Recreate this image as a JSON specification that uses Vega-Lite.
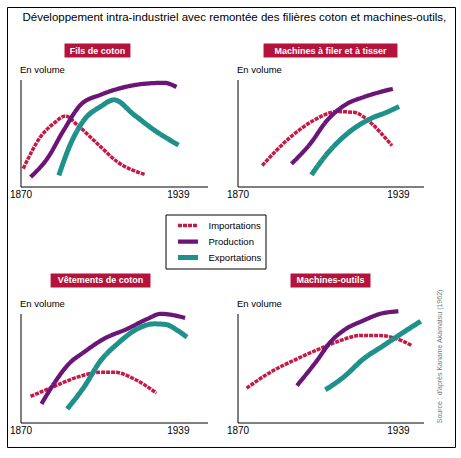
{
  "$schema": "https://vega.github.io/schema/vega-lite/v6.json",
  "padding": {"left": 6.5, "top": 6.5, "right": 3, "bottom": 3},
  "background": "white",
  "title": {
    "text": "Développement intra-industriel avec remontée des filières coton et machines-outils,",
    "fontSize": 11.5,
    "fontWeight": "normal",
    "font": "Liberation Sans",
    "color": "black",
    "anchor": "start",
    "frame": "group",
    "baseline": "alphabetic",
    "dx": 2,
    "offset": -26
  },
  "datasets": {
    "series": [
      {"panel": "fils", "serie": "Importations", "year": 1871.2, "vol": 16.7},
      {"panel": "fils", "serie": "Importations", "year": 1878.8, "vol": 46.5},
      {"panel": "fils", "serie": "Importations", "year": 1884.6, "vol": 59},
      {"panel": "fils", "serie": "Importations", "year": 1889.8, "vol": 66},
      {"panel": "fils", "serie": "Importations", "year": 1894.9, "vol": 57.5},
      {"panel": "fils", "serie": "Importations", "year": 1905.2, "vol": 37},
      {"panel": "fils", "serie": "Importations", "year": 1912.5, "vol": 23},
      {"panel": "fils", "serie": "Importations", "year": 1924.5, "vol": 11.3},
      {"panel": "fils", "serie": "Production", "year": 1874.4, "vol": 8.8},
      {"panel": "fils", "serie": "Production", "year": 1881.7, "vol": 26},
      {"panel": "fils", "serie": "Production", "year": 1889, "vol": 52.8},
      {"panel": "fils", "serie": "Production", "year": 1896.4, "vol": 76.4},
      {"panel": "fils", "serie": "Production", "year": 1905.2, "vol": 85.8},
      {"panel": "fils", "serie": "Production", "year": 1914, "vol": 92},
      {"panel": "fils", "serie": "Production", "year": 1924.2, "vol": 96},
      {"panel": "fils", "serie": "Production", "year": 1933, "vol": 96.9},
      {"panel": "fils", "serie": "Production", "year": 1938.4, "vol": 93},
      {"panel": "fils", "serie": "Exportations", "year": 1886.8, "vol": 10.4},
      {"panel": "fils", "serie": "Exportations", "year": 1892, "vol": 40},
      {"panel": "fils", "serie": "Exportations", "year": 1897.8, "vol": 62},
      {"panel": "fils", "serie": "Exportations", "year": 1905.2, "vol": 74.8},
      {"panel": "fils", "serie": "Exportations", "year": 1911, "vol": 81},
      {"panel": "fils", "serie": "Exportations", "year": 1919.8, "vol": 67},
      {"panel": "fils", "serie": "Exportations", "year": 1928.6, "vol": 52.8},
      {"panel": "fils", "serie": "Exportations", "year": 1939.3, "vol": 38.7},

      {"panel": "machines", "serie": "Importations", "year": 1880.6, "vol": 19.6},
      {"panel": "machines", "serie": "Importations", "year": 1892.7, "vol": 46},
      {"panel": "machines", "serie": "Importations", "year": 1902.7, "vol": 61.7},
      {"panel": "machines", "serie": "Importations", "year": 1912.8, "vol": 70},
      {"panel": "machines", "serie": "Importations", "year": 1919.9, "vol": 69.4},
      {"panel": "machines", "serie": "Importations", "year": 1927.1, "vol": 60},
      {"panel": "machines", "serie": "Importations", "year": 1931.4, "vol": 50.7},
      {"panel": "machines", "serie": "Importations", "year": 1936.4, "vol": 38.3},
      {"panel": "machines", "serie": "Production", "year": 1893.2, "vol": 21.2},
      {"panel": "machines", "serie": "Production", "year": 1901.3, "vol": 40},
      {"panel": "machines", "serie": "Production", "year": 1908.5, "vol": 61.7},
      {"panel": "machines", "serie": "Production", "year": 1917.1, "vol": 77.3},
      {"panel": "machines", "serie": "Production", "year": 1924.2, "vol": 83.5},
      {"panel": "machines", "serie": "Production", "year": 1936.8, "vol": 91.3},
      {"panel": "machines", "serie": "Exportations", "year": 1901.8, "vol": 10.9},
      {"panel": "machines", "serie": "Exportations", "year": 1908.5, "vol": 30.5},
      {"panel": "machines", "serie": "Exportations", "year": 1917.1, "vol": 49.2},
      {"panel": "machines", "serie": "Exportations", "year": 1927.1, "vol": 63.3},
      {"panel": "machines", "serie": "Exportations", "year": 1934.2, "vol": 69.4},
      {"panel": "machines", "serie": "Exportations", "year": 1939.5, "vol": 74.8},

      {"panel": "vetements", "serie": "Importations", "year": 1874.4, "vol": 23.9},
      {"panel": "vetements", "serie": "Importations", "year": 1884.6, "vol": 33},
      {"panel": "vetements", "serie": "Importations", "year": 1894.9, "vol": 41.6},
      {"panel": "vetements", "serie": "Importations", "year": 1905.2, "vol": 46.2},
      {"panel": "vetements", "serie": "Importations", "year": 1911, "vol": 46.2},
      {"panel": "vetements", "serie": "Importations", "year": 1919.8, "vol": 40},
      {"panel": "vetements", "serie": "Importations", "year": 1929.6, "vol": 27},
      {"panel": "vetements", "serie": "Production", "year": 1879.2, "vol": 17.1},
      {"panel": "vetements", "serie": "Production", "year": 1884.6, "vol": 35.5},
      {"panel": "vetements", "serie": "Production", "year": 1891.2, "vol": 53.8},
      {"panel": "vetements", "serie": "Production", "year": 1897.8, "vol": 64.5},
      {"panel": "vetements", "serie": "Production", "year": 1906.6, "vol": 76.8},
      {"panel": "vetements", "serie": "Production", "year": 1916.9, "vol": 86},
      {"panel": "vetements", "serie": "Production", "year": 1925.7, "vol": 95.1},
      {"panel": "vetements", "serie": "Production", "year": 1931.5, "vol": 99.7},
      {"panel": "vetements", "serie": "Production", "year": 1942.2, "vol": 96},
      {"panel": "vetements", "serie": "Exportations", "year": 1890.5, "vol": 12.5},
      {"panel": "vetements", "serie": "Exportations", "year": 1897.8, "vol": 32.4},
      {"panel": "vetements", "serie": "Exportations", "year": 1905.2, "vol": 56.9},
      {"panel": "vetements", "serie": "Exportations", "year": 1912.5, "vol": 72.2},
      {"panel": "vetements", "serie": "Exportations", "year": 1921.3, "vol": 86},
      {"panel": "vetements", "serie": "Exportations", "year": 1928.6, "vol": 90.5},
      {"panel": "vetements", "serie": "Exportations", "year": 1933.7, "vol": 89.9},
      {"panel": "vetements", "serie": "Exportations", "year": 1938.9, "vol": 84.4},
      {"panel": "vetements", "serie": "Exportations", "year": 1943, "vol": 78.3},

      {"panel": "outils", "serie": "Importations", "year": 1873.9, "vol": 31.5},
      {"panel": "outils", "serie": "Importations", "year": 1884.2, "vol": 46.2},
      {"panel": "outils", "serie": "Importations", "year": 1895.6, "vol": 58.4},
      {"panel": "outils", "serie": "Importations", "year": 1907, "vol": 69.1},
      {"panel": "outils", "serie": "Importations", "year": 1914.2, "vol": 75.2},
      {"panel": "outils", "serie": "Importations", "year": 1922.8, "vol": 79.8},
      {"panel": "outils", "serie": "Importations", "year": 1931.4, "vol": 79.8},
      {"panel": "outils", "serie": "Importations", "year": 1938.5, "vol": 76.8},
      {"panel": "outils", "serie": "Importations", "year": 1945, "vol": 70.6},
      {"panel": "outils", "serie": "Production", "year": 1895.6, "vol": 33.9},
      {"panel": "outils", "serie": "Production", "year": 1904.2, "vol": 56.9},
      {"panel": "outils", "serie": "Production", "year": 1909.9, "vol": 73.7},
      {"panel": "outils", "serie": "Production", "year": 1915.6, "vol": 84.4},
      {"panel": "outils", "serie": "Production", "year": 1924.2, "vol": 93.6},
      {"panel": "outils", "serie": "Production", "year": 1931.4, "vol": 99.7},
      {"panel": "outils", "serie": "Production", "year": 1939.2, "vol": 102},
      {"panel": "outils", "serie": "Exportations", "year": 1907.8, "vol": 30},
      {"panel": "outils", "serie": "Exportations", "year": 1915.6, "vol": 41.6},
      {"panel": "outils", "serie": "Exportations", "year": 1924.2, "vol": 58.4},
      {"panel": "outils", "serie": "Exportations", "year": 1932.8, "vol": 70.6},
      {"panel": "outils", "serie": "Exportations", "year": 1941.4, "vol": 82.8},
      {"panel": "outils", "serie": "Exportations", "year": 1948.8, "vol": 92.9}
    ]
  },
  "columns": 2,
  "spacing": {"row": 127, "column": 30},
  "bounds": "flush",
  "resolve": {
    "legend": {"color": "independent", "strokeWidth": "independent", "strokeDash": "independent"}
  },
  "concat": [
    {
      "width": 187,
      "height": 107,
      "layer": [
        {
          "data": {"name": "series"},
          "transform": [{"filter": "datum.panel === 'fils'"}],
          "mark": {"type": "line", "interpolate": "monotone", "strokeCap": "butt"},
          "encoding": {
            "x": {"field": "year", "type": "quantitative", "scale": {"domain": [1870, 1952], "nice": false, "zero": false},
                  "axis": {"values": [1870, 1939], "format": "d", "title": null}},
            "y": {"field": "vol", "type": "quantitative", "scale": {"domain": [0, 100], "nice": false},
                  "axis": {"title": "En volume", "labels": false}},
            "color": {"field": "serie", "type": "nominal",
                      "scale": {"domain": ["Importations", "Production", "Exportations"], "range": ["#c41a47", "#6b1577", "#1d918a"]},
                      "legend": {"title": null, "orient": "none", "legendX": 145, "legendY": 135}},
            "strokeWidth": {"field": "serie", "type": "nominal",
                            "scale": {"domain": ["Importations", "Production", "Exportations"], "range": [3.5, 5, 3]},
                            "legend": {"title": null, "orient": "none", "legendX": 145, "legendY": 135}},
            "strokeDash": {"field": "serie", "type": "nominal",
                           "scale": {"domain": ["Importations", "Production", "Exportations"], "range": [[4, 1], [1, 0], [1, 0]]},
                           "legend": {"title": null, "orient": "none", "legendX": 145, "legendY": 135}}
          }
        },
        {
          "data": {"values": [{"frame": "cadre"}]},
          "mark": {"type": "rect", "fill": null, "stroke": "black", "strokeWidth": 1, "clip": false},
          "encoding": {"x": {"datum": 1864.3}, "x2": {"datum": 2060.75}, "y": {"datum": 167.3}, "y2": {"datum": -243.9}}
        },
        {
          "data": {"values": [{"label": "Fils de coton"}]},
          "layer": [
            {
              "mark": {"type": "rect", "fill": "#b5123c", "clip": false},
              "encoding": {"x": {"datum": 1889.3}, "x2": {"datum": 1918.2}, "y": {"datum": 133.6}, "y2": {"datum": 120.6}}
            },
            {
              "mark": {"type": "text", "fill": "white", "fontWeight": "bold", "fontSize": 9, "font": "Liberation Sans", "baseline": "middle", "align": "center"},
              "encoding": {"text": {"field": "label"}, "x": {"datum": 1903.8}, "y": {"datum": 127.1}}
            }
          ]
        }
      ]
    },
    {
      "width": 186,
      "height": 107,
      "layer": [
        {
          "data": {"name": "series"},
          "transform": [{"filter": "datum.panel === 'machines'"}],
          "mark": {"type": "line", "interpolate": "monotone", "strokeCap": "butt"},
          "encoding": {
            "x": {"field": "year", "type": "quantitative", "scale": {"domain": [1870, 1950], "nice": false, "zero": false},
                  "axis": {"values": [1870, 1939], "format": "d", "title": null}},
            "y": {"field": "vol", "type": "quantitative", "scale": {"domain": [0, 100], "nice": false},
                  "axis": {"title": "En volume", "labels": false}},
            "color": {"field": "serie", "type": "nominal",
                      "scale": {"domain": ["Importations", "Production", "Exportations"], "range": ["#c41a47", "#6b1577", "#1d918a"]}, "legend": null},
            "strokeWidth": {"field": "serie", "type": "nominal",
                            "scale": {"domain": ["Importations", "Production", "Exportations"], "range": [3.5, 5, 3]}, "legend": null},
            "strokeDash": {"field": "serie", "type": "nominal",
                           "scale": {"domain": ["Importations", "Production", "Exportations"], "range": [[4, 1], [1, 0], [1, 0]]}, "legend": null}
          }
        },
        {
          "data": {"values": [{"label": "Machines à filer et à tisser"}]},
          "layer": [
            {
              "mark": {"type": "rect", "fill": "#b5123c", "clip": false},
              "encoding": {"x": {"datum": 1881.2}, "x2": {"datum": 1938.8}, "y": {"datum": 133.6}, "y2": {"datum": 120.6}}
            },
            {
              "mark": {"type": "text", "fill": "white", "fontWeight": "bold", "fontSize": 9, "font": "Liberation Sans", "baseline": "middle", "align": "center"},
              "encoding": {"text": {"field": "label"}, "x": {"datum": 1910}, "y": {"datum": 127.1}}
            }
          ]
        }
      ]
    },
    {
      "width": 187,
      "height": 109,
      "layer": [
        {
          "data": {"name": "series"},
          "transform": [{"filter": "datum.panel === 'vetements'"}],
          "mark": {"type": "line", "interpolate": "monotone", "strokeCap": "butt"},
          "encoding": {
            "x": {"field": "year", "type": "quantitative", "scale": {"domain": [1870, 1952], "nice": false, "zero": false},
                  "axis": {"values": [1870, 1939], "format": "d", "title": null}},
            "y": {"field": "vol", "type": "quantitative", "scale": {"domain": [0, 100], "nice": false},
                  "axis": {"title": "En volume", "labels": false}},
            "color": {"field": "serie", "type": "nominal",
                      "scale": {"domain": ["Importations", "Production", "Exportations"], "range": ["#c41a47", "#6b1577", "#1d918a"]}, "legend": null},
            "strokeWidth": {"field": "serie", "type": "nominal",
                            "scale": {"domain": ["Importations", "Production", "Exportations"], "range": [3.5, 5, 3]}, "legend": null},
            "strokeDash": {"field": "serie", "type": "nominal",
                           "scale": {"domain": ["Importations", "Production", "Exportations"], "range": [[4, 1], [1, 0], [1, 0]]}, "legend": null}
          }
        },
        {
          "data": {"values": [{"label": "Vêtements de coton"}]},
          "layer": [
            {
              "mark": {"type": "rect", "fill": "#b5123c", "clip": false},
              "encoding": {"x": {"datum": 1883.2}, "x2": {"datum": 1927.0}, "y": {"datum": 136.7}, "y2": {"datum": 123.9}}
            },
            {
              "mark": {"type": "text", "fill": "white", "fontWeight": "bold", "fontSize": 9, "font": "Liberation Sans", "baseline": "middle", "align": "center"},
              "encoding": {"text": {"field": "label"}, "x": {"datum": 1905.1}, "y": {"datum": 130.3}}
            }
          ]
        }
      ]
    },
    {
      "width": 186,
      "height": 109,
      "layer": [
        {
          "data": {"name": "series"},
          "transform": [{"filter": "datum.panel === 'outils'"}],
          "mark": {"type": "line", "interpolate": "monotone", "strokeCap": "butt"},
          "encoding": {
            "x": {"field": "year", "type": "quantitative", "scale": {"domain": [1870, 1950], "nice": false, "zero": false},
                  "axis": {"values": [1870, 1939], "format": "d", "title": null}},
            "y": {"field": "vol", "type": "quantitative", "scale": {"domain": [0, 100], "nice": false},
                  "axis": {"title": "En volume", "labels": false}},
            "color": {"field": "serie", "type": "nominal",
                      "scale": {"domain": ["Importations", "Production", "Exportations"], "range": ["#c41a47", "#6b1577", "#1d918a"]}, "legend": null},
            "strokeWidth": {"field": "serie", "type": "nominal",
                            "scale": {"domain": ["Importations", "Production", "Exportations"], "range": [3.5, 5, 3]}, "legend": null},
            "strokeDash": {"field": "serie", "type": "nominal",
                           "scale": {"domain": ["Importations", "Production", "Exportations"], "range": [[4, 1], [1, 0], [1, 0]]}, "legend": null}
          }
        },
        {
          "data": {"values": [{"label": "Machines-outils"}]},
          "layer": [
            {
              "mark": {"type": "rect", "fill": "#b5123c", "clip": false},
              "encoding": {"x": {"datum": 1892.8}, "x2": {"datum": 1927.2}, "y": {"datum": 136.7}, "y2": {"datum": 123.9}}
            },
            {
              "mark": {"type": "text", "fill": "white", "fontWeight": "bold", "fontSize": 9, "font": "Liberation Sans", "baseline": "middle", "align": "center"},
              "encoding": {"text": {"field": "label"}, "x": {"datum": 1910}, "y": {"datum": 130.3}}
            }
          ]
        },
        {
          "data": {"values": [{"source": "Source : d'après Kaname Akamatsu (1962)"}]},
          "mark": {"type": "text", "fill": "#777777", "fontSize": 7, "font": "Liberation Sans", "angle": 270, "baseline": "middle", "align": "center"},
          "encoding": {"text": {"field": "source"}, "x": {"datum": 1957.3}, "y": {"datum": 60.6}}
        }
      ]
    }
  ],
  "config": {
    "view": {"stroke": null},
    "font": "Liberation Sans",
    "axis": {
      "grid": false,
      "ticks": false,
      "domainColor": "black",
      "domainWidth": 1,
      "labelColor": "black",
      "labelFontSize": 10,
      "labelFont": "Liberation Sans",
      "labelFlush": false,
      "labelPadding": 3,
      "titleFont": "Liberation Sans",
      "titleFontSize": 9.5,
      "titleFontWeight": "normal",
      "titleColor": "black"
    },
    "axisY": {
      "titleAngle": 0,
      "titleAlign": "left",
      "titleBaseline": "bottom",
      "titleX": -1,
      "titleY": -5
    },
    "legend": {
      "strokeColor": "black",
      "padding": 4,
      "symbolType": "stroke",
      "symbolSize": 400,
      "symbolOffset": 6,
      "clipHeight": 14,
      "rowPadding": 2,
      "labelOffset": 8,
      "labelFontSize": 9.5,
      "labelFont": "Liberation Sans",
      "labelColor": "black"
    }
  }
}
